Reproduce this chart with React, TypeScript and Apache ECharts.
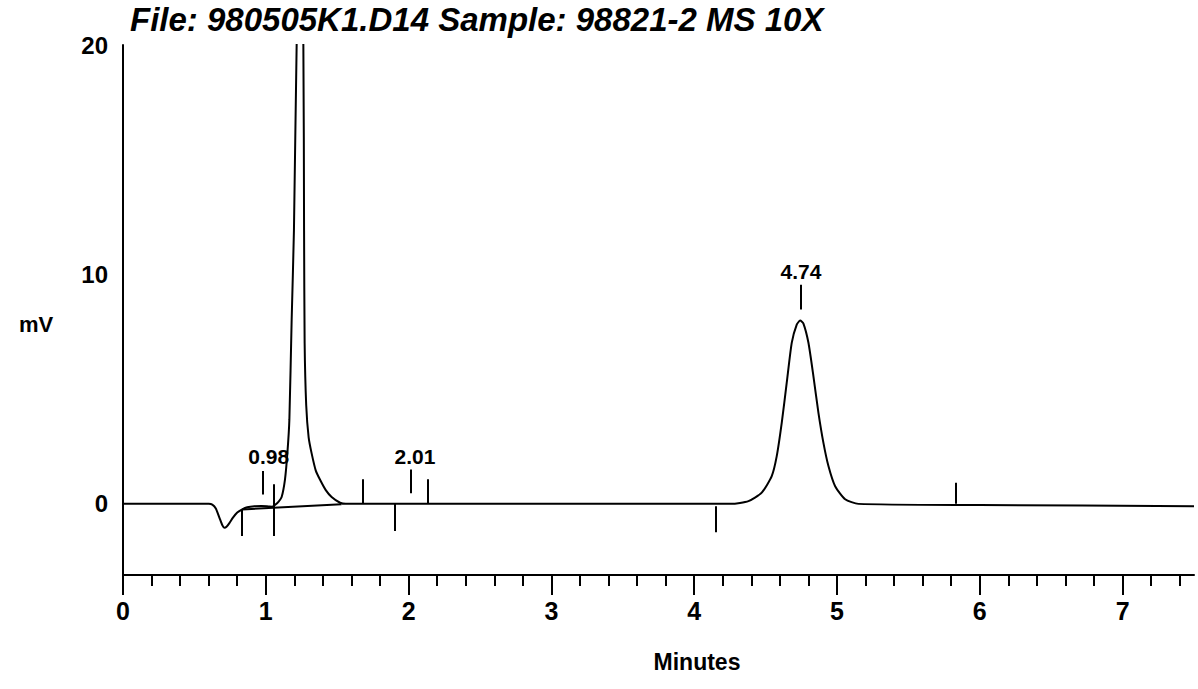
import { useEffect, useRef } from "react";
import * as echarts from "echarts";

const TITLE = "File: 980505K1.D14 Sample: 98821-2 MS 10X";
const X_NAME = "Minutes";
const Y_NAME = "mV";

// detector trace (minutes, mV)
const traceTimes = [
  0, 0.3, 0.6, 0.625, 0.65, 0.675, 0.695, 0.71, 0.725, 0.745,
  0.77, 0.8, 0.835, 0.87, 0.92, 0.97, 1.02, 1.045, 1.064, 1.09,
  1.111, 1.134, 1.151, 1.165, 1.181, 1.197, 1.216, 1.24, 1.263, 1.268,
  1.272, 1.283, 1.3, 1.321, 1.35, 1.38, 1.42, 1.461, 1.52, 1.56, 2.0,
  3.0, 4.0, 4.26, 4.38, 4.473, 4.543, 4.578, 4.613, 4.648, 4.683,
  4.718, 4.742, 4.765, 4.8, 4.835, 4.87, 4.905, 4.94, 4.987, 5.057,
  5.15, 6.0, 7.5,
];
const traceValues = [
  0, 0, 0, -0.03, -0.2, -0.6, -0.92, -1.04, -1.0, -0.84,
  -0.6, -0.38, -0.24, -0.15, -0.1, -0.09, -0.11, -0.12, -0.05, 0.1,
  0.3, 1.05, 2.2, 3.66, 8.0, 11.9, 20, 26, 20, 11.9,
  7.0, 4.3, 2.9, 2.2, 1.45, 1.05, 0.6, 0.3, 0.05, 0, 0,
  0, 0, 0, 0.12, 0.49, 1.21, 2.08, 3.53, 5.28, 7.02,
  7.81, 7.99, 7.86, 7.02, 5.56, 3.97, 2.66, 1.65, 0.77, 0.2,
  0, -0.05, -0.1,
];

// integration baseline under the first peak
const baseTimes = [0.835, 1.53];
const baseValues = [-0.24, -0.02];

// event marks (vertical ticks)
const markerTimes = [0.835, 0.978, 1.053, 1.678, 1.905, 2.015, 2.134, 4.153, 4.745, 5.833];
const markerTop = [-0.24, 1.43, 0.85, 1.07, 0, 1.5, 1.07, -0.1, 9.55, 0.92];
const markerBottom = [-1.4, 0.41, -1.4, 0, -1.18, 0.46, 0, -1.24, 8.47, 0];

// retention time labels
const labelTexts = ["0.98", "2.01", "4.74"];
const labelTimes = [1.02, 2.045, 4.748];
const labelValues = [2.07, 2.06, 10.11];

// axes
const xMajorTicks = [0, 1, 2, 3, 4, 5, 6, 7];
const xMinorTicks = [
  0.2, 0.4, 0.6, 0.8, 1.2, 1.4, 1.6, 1.8, 2.2, 2.4, 2.6, 2.8,
  3.2, 3.4, 3.6, 3.8, 4.2, 4.4, 4.6, 4.8, 5.2, 5.4, 5.6, 5.8,
  6.2, 6.4, 6.6, 6.8, 7.2, 7.4,
];
const yLabels = [0, 10, 20];
const X_MIN = 0;
const X_MAX = 7.5;
const Y_MIN = -3.1;
const Y_MAX = 20;

const FONT = "'Liberation Sans', Arial, sans-serif";

export default function App() {
  const ref = useRef<HTMLDivElement>(null);

  useEffect(() => {
    if (!ref.current) return;
    const chart = echarts.init(ref.current, undefined, { renderer: "svg" });
    const option: any = {
      animation: false,
      backgroundColor: "#ffffff",
      grid: {
        left: 123,
        right: 4,
        top: 45,
        bottom: 114,
        containLabel: false,
        outerBoundsMode: "none",
      },
      graphic: [
        {
          type: "text",
          left: 130,
          top: 3,
          style: {
            text: TITLE,
            fontFamily: FONT,
            fontSize: 33,
            lineHeight: 30,
            fontWeight: "bold",
            fontStyle: "italic",
            fill: "#000",
          },
        },
        {
          type: "text",
          x: 36,
          y: 324,
          style: {
            text: Y_NAME,
            fontFamily: FONT,
            fontSize: 22,
            fontWeight: "bold",
            fill: "#000",
            textAlign: "center",
            textVerticalAlign: "middle",
          },
        },
        {
          type: "text",
          x: 697,
          y: 662,
          style: {
            text: X_NAME,
            fontFamily: FONT,
            fontSize: 23,
            fontWeight: "bold",
            fill: "#000",
            textAlign: "center",
            textVerticalAlign: "middle",
          },
        },
      ],
      xAxis: [
        {
          type: "value",
          min: X_MIN,
          max: X_MAX,
          interval: 1,
          position: "bottom",
          axisLine: { show: true, onZero: false, lineStyle: { color: "#000", width: 2 } },
          axisTick: {
            show: true,
            inside: false,
            length: 20,
            customValues: xMajorTicks,
            lineStyle: { color: "#000", width: 2 },
          },
          axisLabel: {
            show: true,
            customValues: xMajorTicks,
            margin: 23,
            color: "#000",
            fontFamily: FONT,
            fontSize: 25,
            fontWeight: "bold",
          },
          splitLine: { show: false },
        },
        {
          type: "value",
          min: X_MIN,
          max: X_MAX,
          position: "bottom",
          axisLine: { show: false, onZero: false },
          axisTick: {
            show: true,
            inside: false,
            length: 11,
            customValues: xMinorTicks,
            lineStyle: { color: "#000", width: 2 },
          },
          axisLabel: { show: false },
          splitLine: { show: false },
        },
      ],
      yAxis: {
        type: "value",
        min: Y_MIN,
        max: Y_MAX,
        axisLine: { show: true, onZero: false, lineStyle: { color: "#000", width: 2 } },
        axisTick: { show: false },
        axisLabel: {
          show: true,
          customValues: yLabels,
          margin: 15,
          color: "#000",
          fontFamily: FONT,
          fontSize: 24,
          fontWeight: "bold",
        },
        splitLine: { show: false },
      },
      series: [
        {
          name: "Signal",
          type: "line",
          xAxisIndex: 0,
          data: traceTimes.map((t, i) => [t, traceValues[i]]),
          showSymbol: false,
          smooth: 0.2,
          clip: true,
          lineStyle: { color: "#000", width: 2 },
          z: 3,
        },
        {
          name: "Baseline",
          type: "line",
          xAxisIndex: 0,
          data: baseTimes.map((t, i) => [t, baseValues[i]]),
          showSymbol: false,
          lineStyle: { color: "#000", width: 2 },
          z: 3,
        },
        {
          name: "Events",
          type: "lines",
          coordinateSystem: "cartesian2d",
          xAxisIndex: 0,
          data: markerTimes.map((t, i) => ({
            coords: [
              [t, markerTop[i]],
              [t, markerBottom[i]],
            ],
          })),
          lineStyle: { color: "#000", width: 2, opacity: 1 },
          z: 4,
        },
        {
          name: "Labels",
          type: "scatter",
          xAxisIndex: 0,
          data: labelTimes.map((t, i) => [t, labelValues[i]]),
          symbolSize: 0,
          itemStyle: { opacity: 1, color: "#000" },
          label: {
            show: true,
            position: "inside",
            formatter: (p: any) => labelTexts[p.dataIndex],
            color: "#000",
            opacity: 1,
            textBorderWidth: 0,
            fontFamily: FONT,
            fontSize: 21,
            fontWeight: "bold",
          },
          z: 5,
        },
      ],
    };
    chart.setOption(option);
    return () => chart.dispose();
  }, []);

  return (
    <div
      ref={ref}
      style={{ position: "fixed", left: 0, top: 0, width: 1198, height: 689, background: "#fff" }}
    />
  );
}
